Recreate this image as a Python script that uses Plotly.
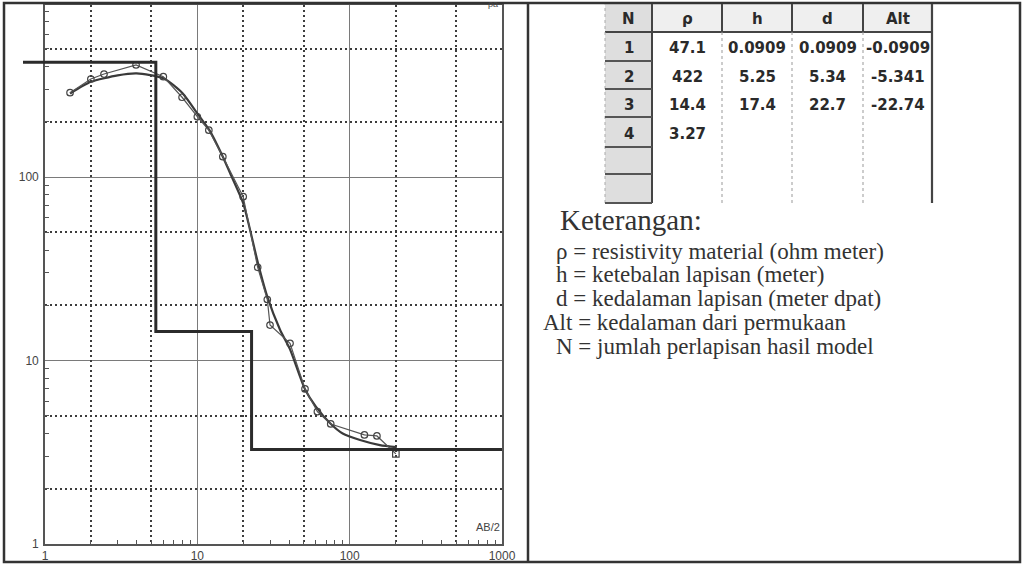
import plotly.graph_objects as go

# ---------------- data ----------------
# field (measured) apparent resistivity vs AB/2
ab2_meas = [1.46, 2.0, 2.44, 3.96, 5.98, 7.94, 10.0, 11.9, 14.7, 20.0, 24.9, 28.8, 30.0,
            40.6, 50.9, 61.4, 75.1, 125, 151, 201]
rho_meas = [288, 342, 364, 408, 352, 272, 213, 180, 129, 78.1, 32.2, 21.5, 15.6,
            12.4, 7.0, 5.26, 4.51, 3.93, 3.88, 3.10]

# calculated (model) curve
ab2_calc = [1.46, 2.0, 3.0, 4.0, 6.0, 8.0, 10.0, 12.0, 14.7, 16.4, 20.0, 22.2, 25.0,
            28.8, 34.9, 40.6, 50.9, 60.0, 74.4, 90.0, 117, 158, 204]
rho_calc = [285, 330, 358, 367, 345, 286, 222, 180, 129, 105, 72, 51.4, 34,
            22.3, 14.7, 11.5, 6.97, 5.6, 4.55, 4.0, 3.69, 3.46, 3.37]

# layered model (table)
table_cols = ["N", "\u03c1", "h", "d", "Alt"]
layer_n = [1, 2, 3, 4]
layer_rho = [47.1, 422, 14.4, 3.27]
layer_h = [0.0909, 5.25, 17.4]
layer_d = [0.0909, 5.34, 22.7]
layer_alt = [-0.0909, -5.341, -22.74]
table_rows = 6

x_ticks = [1, 10, 100, 1000]
y_ticks = [1, 10, 100]
dotted_grid = [2, 5, 20, 50, 200, 500]

legend_title = "Keterangan:"
legend_lines = [
    ("\u03c1 = resistivity material (ohm meter)", 556),
    ("h = ketebalan lapisan (meter)", 556),
    ("d = kedalaman lapisan (meter dpat)", 556),
    ("Alt = kedalaman dari permukaan", 543),
    ("N = jumlah perlapisan hasil model", 556),
]

# ---------------- helpers (pixel -> paper) ----------------
W, H = 1022, 565
def px(x):
    return x / W
def py(y):
    return 1 - y / H

X_MIN_PX, X_MAX_PX = 45, 502
Y_TOP_PX, Y_BOT_PX = 5, 544
dec_px = (X_MAX_PX - X_MIN_PX) / 3.0
y_top = 2 + (177 - Y_TOP_PX) / 183.5

# step model line built from the layer table
step_x = [0.01]
step_y = [layer_rho[0]]
for i, dd in enumerate(layer_d):
    step_x += [dd, dd]
    step_y += [layer_rho[i], layer_rho[i + 1]]
step_x.append(x_ticks[-1])
step_y.append(layer_rho[-1])

fig = go.Figure()

fig.add_trace(go.Scatter(x=ab2_calc, y=rho_calc, mode="lines",
                         line=dict(color="#3a3a3a", width=2.2, shape="spline", smoothing=0.6),
                         xaxis="x", yaxis="y", hoverinfo="skip"))
symbols = ["circle-open"] * (len(ab2_meas) - 1) + ["square-open"]
fig.add_trace(go.Scatter(x=ab2_meas, y=rho_meas, mode="lines+markers",
                         line=dict(color="#555", width=1.2),
                         marker=dict(symbol=symbols, size=6.5, color="#444", line=dict(width=1.2)),
                         xaxis="x3", yaxis="y3", hoverinfo="skip"))
fig.add_trace(go.Scatter(x=step_x, y=step_y, mode="lines", line=dict(color="#2b2b2b", width=3),
                         xaxis="x2", yaxis="y2", hoverinfo="skip"))

dom_x = [px(X_MIN_PX), px(X_MAX_PX)]
dom_y = [py(Y_BOT_PX), py(Y_TOP_PX)]
minor_x = [m * 10 ** k for k in range(3) for m in range(2, 10)]
minor_y = [m * 10 ** k for k in range(3) for m in range(2, 10) if m * 10 ** k < 10 ** y_top]
tickfont = dict(family="Liberation Sans, Arial", size=12, color="#444")

fig.update_layout(
    width=W, height=H, margin=dict(l=0, r=0, t=0, b=0, autoexpand=False),
    paper_bgcolor="white", plot_bgcolor="rgba(0,0,0,0)", showlegend=False,
    font=dict(family="Liberation Sans, Arial", color="#333"),
    xaxis=dict(type="log", range=[0, 3], domain=dom_x, anchor="y", automargin=False,
               tickvals=x_ticks, ticktext=[str(v) for v in x_ticks], ticks="",
               showgrid=True, gridcolor="#7a7a7a", gridwidth=1,
               showline=True, linecolor="#555", linewidth=1.6, mirror=True,
               tickfont=tickfont, zeroline=False,
               minor=dict(tickvals=minor_x, ticks="inside", ticklen=4, tickcolor="#555", showgrid=False)),
    yaxis=dict(type="log", range=[0, y_top], domain=dom_y, anchor="x", automargin=False,
               tickvals=y_ticks, ticktext=[str(v) for v in y_ticks], ticks="",
               showgrid=True, gridcolor="#7a7a7a", gridwidth=1,
               showline=True, linecolor="#555", linewidth=1.6, mirror=True,
               tickfont=tickfont, zeroline=False, ticklabelstandoff=2,
               minor=dict(tickvals=minor_y, ticks="inside", ticklen=4, tickcolor="#555", showgrid=False)),
    xaxis3=dict(type="log", range=[0, 3], overlaying="x", anchor="y3", tickvals=dotted_grid,
                automargin=False, showticklabels=False, ticks="", showgrid=True, griddash="2px,3px",
                gridcolor="#3c3c3c", gridwidth=1.5, showline=False, zeroline=False),
    yaxis3=dict(type="log", range=[0, y_top], overlaying="y", anchor="x3", tickvals=dotted_grid,
                automargin=False, showticklabels=False, ticks="", showgrid=True, griddash="2px,3px",
                gridcolor="#3c3c3c", gridwidth=1.5, showline=False, zeroline=False),
    xaxis2=dict(type="log", range=[-(X_MIN_PX - 23) / dec_px, 3], domain=[px(23), px(X_MAX_PX)],
                anchor="y2", visible=False, automargin=False),
    yaxis2=dict(type="log", range=[0, y_top], domain=dom_y, anchor="x2", visible=False, automargin=False),
)

# ---------------- frame + table grid (layout decoration) ----------------
col_edges = [605, 652, 722, 792, 863, 932]
row_edges = [4, 32, 61, 89, 117, 147, 174, 203]
shapes = [
    dict(type="rect", x0=px(4), x1=px(1020), y0=py(562), y1=py(3), line=dict(color="#333", width=2.5)),
    dict(type="line", x0=px(528), x1=px(528), y0=py(562), y1=py(3), line=dict(color="#333", width=2.5)),
    dict(type="rect", x0=px(col_edges[0]), x1=px(col_edges[1]), y0=py(row_edges[-1]), y1=py(row_edges[0]),
         fillcolor="#dedede", line=dict(width=0), layer="below"),
    dict(type="rect", x0=px(col_edges[1]), x1=px(col_edges[-1]), y0=py(row_edges[1]), y1=py(row_edges[0]),
         fillcolor="#efefef", line=dict(width=0), layer="below"),
    dict(type="line", x0=px(col_edges[0]), x1=px(col_edges[-1]), y0=py(row_edges[1]), y1=py(row_edges[1]),
         line=dict(color="#444", width=2)),
    dict(type="line", x0=px(col_edges[1]), x1=px(col_edges[1]), y0=py(row_edges[-1]), y1=py(row_edges[0]),
         line=dict(color="#444", width=2)),
    dict(type="line", x0=px(col_edges[-1]), x1=px(col_edges[-1]), y0=py(row_edges[-1]), y1=py(row_edges[0]),
         line=dict(color="#444", width=2.2)),
    dict(type="line", x0=px(col_edges[0]), x1=px(col_edges[0]), y0=py(row_edges[-1]), y1=py(row_edges[0]),
         line=dict(color="#aaa", width=1, dash="dot")),
]
for ce in col_edges[2:-1]:
    shapes.append(dict(type="line", x0=px(ce), x1=px(ce), y0=py(row_edges[1]), y1=py(row_edges[0]),
                       line=dict(color="#444", width=2)))
    shapes.append(dict(type="line", x0=px(ce), x1=px(ce), y0=py(row_edges[-1]), y1=py(row_edges[1]),
                       line=dict(color="#999", width=1, dash="dot")))
for re_ in row_edges[2:]:
    shapes.append(dict(type="line", x0=px(col_edges[0]), x1=px(col_edges[1]), y0=py(re_), y1=py(re_),
                       line=dict(color="#555", width=2)))
for s in shapes:
    s.update(xref="paper", yref="paper")
fig.update_layout(shapes=shapes)

# ---------------- texts ----------------
ann = [
    dict(text="AB/2", x=px(502), y=py(527), xanchor="right", yanchor="middle",
         font=dict(family="Liberation Sans Narrow, Liberation Sans", size=11, color="#444")),
    dict(text="\u03c1a", x=px(500), y=py(4), xanchor="right", yanchor="middle",
         font=dict(family="Liberation Sans", size=9, color="#444")),
    dict(text=legend_title, x=px(558), y=py(220), xanchor="left", yanchor="middle",
         font=dict(family="Liberation Serif, Times New Roman", size=29, color="#333")),
]
for i, (t, x0) in enumerate(legend_lines):
    ann.append(dict(text=t, x=px(x0 - 2), y=py(251 + 23.8 * i), xanchor="left", yanchor="middle",
                    font=dict(family="Liberation Serif, Times New Roman", size=23, color="#333")))

fmt = lambda v: f"{v:g}"
table_values = [[str(n) for n in layer_n], [fmt(v) for v in layer_rho], [fmt(v) for v in layer_h],
                [fmt(v) for v in layer_d], [fmt(v) for v in layer_alt]]
tfont = dict(family="DejaVu Sans, Liberation Sans", size=15, color="#2a2a2a")
for c, name in enumerate(table_cols):
    xc = (col_edges[c] + col_edges[c + 1]) / 2
    ann.append(dict(text=f"<b>{name}</b>", x=px(xc), y=py((row_edges[0] + row_edges[1]) / 2 + 1),
                    xanchor="center", yanchor="middle", font=tfont))
    for r, v in enumerate(table_values[c]):
        yc = (row_edges[r + 1] + row_edges[r + 2]) / 2 + 2
        ann.append(dict(text=f"<b>{v}</b>", x=px(xc), y=py(yc), xanchor="center", yanchor="middle",
                        font=tfont))
for a in ann:
    a.update(xref="paper", yref="paper", showarrow=False)
fig.update_layout(annotations=ann)

fig.write_html("out.html", config={"displayModeBar": False},
               post_script="document.body.style.margin='0';document.body.style.padding='0';")
